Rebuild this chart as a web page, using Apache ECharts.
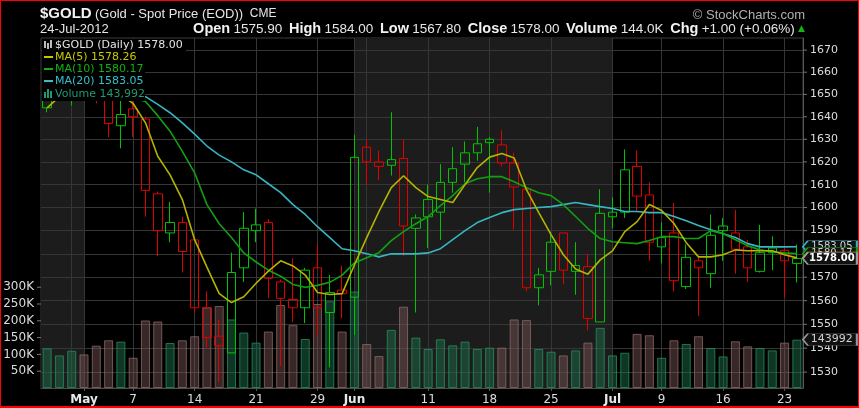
<!DOCTYPE html>
<html>
<head>
<meta charset="utf-8">
<script src="https://cdn.jsdelivr.net/npm/echarts@6/dist/echarts.min.js"></script>
<style>
html,body{margin:0;padding:0;background:#000;}
#wrap{position:relative;width:859px;height:408px;overflow:hidden;background:#000;}
#chart{position:absolute;left:0;top:0;width:859px;height:408px;}
#frame{position:absolute;left:0;top:0;width:859px;height:408px;box-sizing:border-box;border:1px solid #f00;border-bottom-width:2px;pointer-events:none;}
</style>
</head>
<body>
<div id="wrap"><div id="chart"></div><div id="frame"></div></div>
<script>
// ---------- data ----------
const dates = ['Apr 26','Apr 27','Apr 30','May 1','May 2','May 3','May 4','May 7','May 8','May 9','May 10','May 11',
  'May 14','May 15','May 16','May 17','May 18','May 21','May 22','May 23','May 24','May 25','May 29','May 30','May 31',
  'Jun 1','Jun 4','Jun 5','Jun 6','Jun 7','Jun 8','Jun 11','Jun 12','Jun 13','Jun 14','Jun 15','Jun 18','Jun 19','Jun 20',
  'Jun 21','Jun 22','Jun 25','Jun 26','Jun 27','Jun 28','Jun 29','Jul 2','Jul 3','Jul 5','Jul 6','Jul 9','Jul 10','Jul 11',
  'Jul 12','Jul 13','Jul 16','Jul 17','Jul 18','Jul 19','Jul 20','Jul 23','Jul 24'];
const opens  = [1644,1652,1655,1662,1657,1652,1636,1643.5,1639,1606,1589,1593.5,1586,1557,1545,1538,1574,1590,1593.5,1568,
  1560.5,1557,1574,1555,1564.5,1561.5,1626.5,1620,1618.5,1621.5,1591,1603.5,1598,1611,1619,1624,1630,1627.5,1619.5,1608,
  1565.5,1572.5,1589,1572.5,1574.5,1551,1596,1598,1618,1605.5,1583,1589,1566,1577,1571.5,1592,1589,1583,1572.5,1580.5,
  1581.5,1575.9];
const highs  = [1656,1660,1664,1665,1660,1655,1648,1648,1640,1607,1602.5,1596,1586,1564,1552,1580.5,1598,1599.5,1595,1569,
  1578,1574,1584,1571,1575,1632,1630,1625,1642,1630,1597,1610,1619,1626.5,1629,1635.5,1631,1634,1624,1608,
  1574,1589.5,1589,1585,1580,1608,1604.5,1625.5,1625,1611,1593.5,1602,1584,1578.5,1597,1595.5,1599,1586,1592.5,1587.5,
  1582.5,1584];
const lows   = [1642,1649,1645,1652,1646,1631,1626,1631,1596,1579,1585,1572,1555,1540.5,1526,1538,1568,1585,1561,1532.5,
  1551,1550.5,1545.5,1532,1552.5,1545.5,1610,1612,1614,1579,1555,1582.5,1586,1606.5,1611,1620.5,1606.5,1618,1590.5,1564,
  1558,1566.5,1567,1562.5,1547.5,1551,1591,1595.5,1598.5,1577,1576,1564,1565,1553.5,1565.5,1577,1571.5,1568,1572,1573,
  1561.5,1567.8];
const closes = [1652,1655,1660,1658,1654,1637,1641,1640,1607.5,1590,1593.5,1581,1557,1544.5,1541,1572,1591,1592.5,1569.5,1561,
  1557,1573,1557,1563.5,1563,1622,1620,1618,1621,1592,1595.5,1596,1611,1617,1624,1628,1628.5,1619.5,1609,1565.5,
  1571,1585,1573,1575,1552.5,1597.5,1598,1616.5,1605,1585,1587,1568.5,1578.5,1574,1588,1590,1582,1574,1580.5,1582.5,
  1577,1578];
const volumes = [118000,97000,111000,100000,126000,142000,138000,90000,201000,198000,134000,142000,154000,240000,244000,204000,
  165000,135000,168000,247000,187000,146000,250000,258000,168000,287000,131000,95000,173000,242000,150000,116000,145000,
  127000,138000,116000,120000,120000,204000,202000,116000,108000,97000,112000,135000,179000,97000,105000,161000,157000,
  90000,142000,131000,154000,119000,94000,139000,124000,119000,112000,135000,143992];
const ma5  = [1644,1649,1653,1655,1656,1654,1650,1645.9,1637.3,1622.5,1614.3,1603.5,1586.1,1574.3,1563,1559.2,1561.7,1567.4,
  1572.6,1577,1574.8,1570.9,1563.5,1562.6,1563,1575.2,1587,1598.3,1608.7,1613.9,1608.7,1604.8,1603.5,1602.2,1610,1617.5,
  1622.1,1623.7,1621.7,1607.8,1597.8,1588.3,1579.6,1573.5,1571.3,1577.4,1581.3,1589.6,1593.9,1601.3,1598.7,1593.1,1584.8,
  1578.7,1578.7,1579.6,1581.7,1581.3,1581.3,1581.3,1579.6,1578.26];
const ma10 = [1652,1653,1654,1654,1653,1652,1650,1648.5,1646.8,1640.5,1633.6,1624.6,1615.2,1601.3,1593,1587,1580.4,1576.5,
  1573,1570.4,1566.9,1565.7,1566.5,1567.8,1570.9,1576.1,1578.3,1580.5,1585.7,1589.6,1593,1596.1,1600.9,1605.2,1610.4,1612.6,
  1613.5,1613.5,1611.3,1608.7,1606.5,1605.2,1601.3,1596.1,1590.9,1586.6,1585.2,1584.8,1584.4,1585.7,1587.4,1587.4,1586.6,
  1586.6,1590,1588.7,1586.1,1583.5,1581.7,1580.9,1580.4,1580.17];
const ma20 = [1656,1656,1656,1655,1655,1654,1653,1651,1649,1645.5,1641.8,1637.3,1632.3,1627,1623,1620,1616.5,1614.3,1610.4,
  1606.5,1601.3,1597,1591.7,1587,1582.2,1581.3,1580,1578.7,1580,1580,1580,1580.4,1582.2,1586.1,1590,1593.5,1595.7,1597.8,
  1599.1,1599.6,1600,1600.4,1601.3,1602.2,1601.3,1600.4,1599.6,1598.3,1598.3,1597.8,1597.8,1596.1,1594.3,1592.2,1590.4,
  1588.7,1587,1584.4,1583,1583,1583,1583.05];
const priceTicks  = [1530,1540,1550,1560,1570,1580,1590,1600,1610,1620,1630,1640,1650,1660,1670];
const volumeTicks = [50000,100000,150000,200000,250000,300000];
const labelDates  = ['May 1','May 7','May 14','May 21','May 29','Jun 1','Jun 11','Jun 18','Jun 25','Jul 2','Jul 9','Jul 16','Jul 23'];
const labelTexts  = ['May','7','14','21','29','Jun','11','18','25','Jul','9','16','23'];
const monthLabels = ['May','Jun','Jul'];
const gridDates   = ['Apr 30','May 1','May 7','May 14','May 21','May 29','Jun 1','Jun 4','Jun 11','Jun 18','Jun 25','Jul 2','Jul 9','Jul 16','Jul 23'];
const shadedRanges = [[null,'May 1'],['Jun 1','Jul 2']];

// ---------- styles ----------
const GREEN = '#00c400', RED = '#e00000';
const C5 = '#b4b400', C10 = '#12a012', C20 = '#35b6c2';
const FONT = 'DejaVu Sans', HFONT = 'Liberation Sans';
const last = dates.length - 1;

const candleData = dates.map((d, i) => {
  const prev = i > 0 ? closes[i - 1] : opens[i];
  const col = closes[i] >= prev ? GREEN : RED;
  return { value: [opens[i], closes[i], lows[i], highs[i]],
    itemStyle: { color: 'rgba(0,0,0,0)', color0: col, borderColor: col, borderColor0: col, borderWidth: 1 } };
});
const volData = volumes.map((v, i) => {
  const prev = i > 0 ? closes[i - 1] : opens[i];
  const up = closes[i] >= prev;
  return { value: v, itemStyle: up
    ? { color: 'rgba(32,112,78,0.48)', borderColor: 'rgba(40,145,98,0.75)', borderWidth: 1 }
    : { color: 'rgba(122,86,86,0.45)', borderColor: 'rgba(150,110,110,0.72)', borderWidth: 1 } };
});

const tagPath = 'path://M0,6L5,0L54,0L54,12L5,12Z';
function tag(value, coord, border, textColor, bold, z, size) {
  return {
    z: z, silent: true, symbol: tagPath, symbolSize: [54, 12], symbolOffset: [33, 0],
    itemStyle: { color: '#111', borderColor: border, borderWidth: 1 },
    label: { show: true, position: 'inside', offset: [2, 0], formatter: value, color: textColor,
      fontFamily: FONT, fontSize: size || 10, fontWeight: bold ? 'bold' : 'normal' },
    data: [{ coord: coord }]
  };
}

const chart = echarts.init(document.getElementById('chart'));
const fmt2 = v => v.toFixed(2);
const volK = (volumes[last] / 1000).toFixed(1) + 'K';
const chg = closes[last] - closes[last - 1];
const chgPct = chg / closes[last - 1] * 100;

chart.setOption({
  backgroundColor: '#000',
  animation: false,
  grid: { left: 41, right: 56, top: 38, bottom: 20, show: true, borderColor: '#3c3c3c', borderWidth: 1, backgroundColor: 'transparent' },
  xAxis: {
    type: 'category', data: dates, boundaryGap: true,
    axisLine: { show: true, lineStyle: { color: '#4c4c4c' } },
    axisTick: { show: true, alignWithLabel: true, length: 3, lineStyle: { color: '#555' },
      interval: (idx, val) => labelDates.includes(val) },
    axisLabel: { interval: (idx, val) => labelDates.includes(val), margin: 6, color: '#dcdcdc', fontFamily: FONT, fontSize: 12,
      formatter: (val) => { const t = labelTexts[labelDates.indexOf(val)]; return monthLabels.includes(t) ? '{m|' + t + '}' : t; },
      rich: { m: { fontWeight: 'bold', fontSize: 12, fontFamily: FONT, color: '#e8e8e8' } } },
    splitLine: { show: false }
  },
  yAxis: [
    { type: 'log', logBase: 10, min: 1523.4, max: 1675.5, position: 'right',
      axisLine: { show: true, lineStyle: { color: '#5a5a5a' } }, axisTick: { show: false }, axisLabel: { show: false }, splitLine: { show: false } },
    { type: 'value', min: 0, max: 1041667, interval: 50000, position: 'left',
      axisLine: { show: false }, axisTick: { show: false }, splitLine: { show: false },
      axisLabel: { margin: 0, color: '#dcdcdc', fontFamily: FONT, fontSize: 12, showMaxLabel: false,
        formatter: v => volumeTicks.includes(v) ? '{v|' + (v / 1000) + 'K}{t|}' : '',
        rich: { v: { padding: [0, 3, 0, 0] }, t: { width: 4, height: 1, backgroundColor: '#777', verticalAlign: 'middle' } } } }
  ],
  series: [
    { // month shading
      type: 'custom', z: 0, silent: true, xAxisIndex: 0, yAxisIndex: 0,
      data: shadedRanges.map(r => [r[0] == null ? -1 : dates.indexOf(r[0]), dates.indexOf(r[1]), 1600]),
      encode: { x: [0, 1], y: 2 },
      renderItem: (params, api) => {
        const cs = params.coordSys;
        const x0 = api.value(0) < 0 ? cs.x : api.coord([api.value(0), 1600])[0];
        const x1 = api.coord([api.value(1), 1600])[0];
        return { type: 'rect', shape: { x: x0, y: cs.y, width: x1 - x0, height: cs.height }, style: { fill: '#1c1c1c' } };
      }
    },
    { // grid lines + price tick labels
      type: 'line', z: 1, yAxisIndex: 0, data: dates.map(() => null), silent: true, symbol: 'none',
      markLine: {
        z: 1, silent: true, symbol: ['none', 'none'], animation: false,
        lineStyle: { color: '#363636', width: 1, type: 'solid' },
        label: { show: true, position: 'end', distance: 0, color: '#dcdcdc', fontFamily: FONT, fontSize: 11,
          formatter: p => '{t|}{v|' + p.value + '}',
          rich: { t: { width: 4, height: 1, backgroundColor: '#777', verticalAlign: 'middle' }, v: { padding: [0, 0, 0, 3] } } },
        data: priceTicks.map(v => ({ yAxis: v }))
          .concat(gridDates.map(d => ({ xAxis: d, label: { show: false } })))
      }
    },
    { name: 'Volume', type: 'bar', z: 2, yAxisIndex: 1, barWidth: 9, data: volData,
      markPoint: tag(String(volumes[last]), [last, volumes[last]], '#999', '#d0d0d0', false, 13, 11) },
    { name: '$GOLD', type: 'candlestick', z: 3, yAxisIndex: 0, barWidth: 9, data: candleData,
      markPoint: tag(fmt2(closes[last]), [last, closes[last]], '#9a9a9a', '#ffffff', true, 14) },
    { name: 'MA(20)', type: 'line', z: 4, yAxisIndex: 0, data: ma20, symbol: 'none', lineStyle: { color: C20, width: 1.6 },
      markPoint: tag(fmt2(ma20[last]), [last, ma20[last]], C20, '#cfcfcf', false, 10) },
    { name: 'MA(10)', type: 'line', z: 4, yAxisIndex: 0, data: ma10, symbol: 'none', lineStyle: { color: C10, width: 1.6 },
      markPoint: tag(fmt2(ma10[last]), [last, ma10[last]], C10, '#cfcfcf', false, 11) },
    { name: 'MA(5)', type: 'line', z: 4, yAxisIndex: 0, data: ma5, symbol: 'none', lineStyle: { color: C5, width: 1.6 },
      markPoint: tag(fmt2(ma5[last]), [last, ma5[last]], C5, '#cfcfcf', false, 12) }
  ],
  graphic: [
    { type: 'text', x: 40, y: 14, z: 50, silent: true, style: {
        text: '{b|$GOLD} {n|(Gold - Spot Price (EOD))}  {s|CME}', verticalAlign: 'middle',
        rich: { b: { fontFamily: HFONT, fontWeight: 'bold', fontSize: 15, fill: '#f2f2f2' },
                n: { fontFamily: HFONT, fontSize: 13, fill: '#e6e6e6' },
                s: { fontFamily: HFONT, fontSize: 12, fill: '#e6e6e6' } } } },
    { type: 'text', x: 40, y: 29, z: 50, silent: true, style: {
        text: '24-Jul-2012', fontFamily: HFONT, fontSize: 13, fill: '#e6e6e6', verticalAlign: 'middle' } },
    { type: 'text', x: 805, y: 15, z: 50, silent: true, style: {
        text: '© StockCharts.com', fontFamily: HFONT, fontSize: 13, fill: '#b0b0b0', align: 'right', verticalAlign: 'middle' } },
    { type: 'text', x: 805, y: 29, z: 50, silent: true, style: {
        text: '{b|Open} {n|' + fmt2(opens[last]) + '}  {b|High} {n|' + fmt2(highs[last]) + '}  {b|Low} {n|' + fmt2(lows[last]) +
              '}  {b|Close} {n|' + fmt2(closes[last]) + '}  {b|Volume} {n|' + volK + '}  {b|Chg} {n|' +
              (chg >= 0 ? '+' : '') + chg.toFixed(2) + ' (' + (chgPct >= 0 ? '+' : '') + chgPct.toFixed(2) + '%)} {g|▲}',
        align: 'right', verticalAlign: 'middle',
        rich: { b: { fontFamily: HFONT, fontWeight: 'bold', fontSize: 14.5, fill: '#f2f2f2' },
                n: { fontFamily: HFONT, fontSize: 13.5, fill: '#e6e6e6' },
                g: { fontFamily: FONT, fontSize: 9, fill: '#18b018' } } } },
    // legend background
    { type: 'rect', z: 50, silent: true, shape: { x: 42, y: 39, width: 144, height: 12 }, style: { fill: '#000' } },
    { type: 'rect', z: 50, silent: true, shape: { x: 42, y: 39, width: 103, height: 62 }, style: { fill: '#000' } },
    // legend icons
    { type: 'rect', z: 51, silent: true, shape: { x: 44, y: 41, width: 2, height: 7 }, style: { fill: '#bbb' } },
    { type: 'rect', z: 51, silent: true, shape: { x: 47, y: 43, width: 2, height: 6 }, style: { fill: '#bbb' } },
    { type: 'rect', z: 51, silent: true, shape: { x: 50, y: 40, width: 2, height: 8 }, style: { fill: '#bbb' } },
    { type: 'rect', z: 51, silent: true, shape: { x: 44, y: 56, width: 9, height: 2 }, style: { fill: '#c8c800' } },
    { type: 'rect', z: 51, silent: true, shape: { x: 44, y: 68, width: 9, height: 2 }, style: { fill: '#10b010' } },
    { type: 'rect', z: 51, silent: true, shape: { x: 44, y: 80, width: 9, height: 2 }, style: { fill: '#35c0c8' } },
    { type: 'rect', z: 51, silent: true, shape: { x: 44, y: 92, width: 2, height: 6 }, style: { fill: '#1f9a70' } },
    { type: 'rect', z: 51, silent: true, shape: { x: 47, y: 89, width: 2, height: 9 }, style: { fill: '#1f9a70' } },
    { type: 'rect', z: 51, silent: true, shape: { x: 50, y: 91, width: 2, height: 7 }, style: { fill: '#1f9a70' } },
    { type: 'text', x: 55, y: 45, z: 51, silent: true, style: { text: '$GOLD (Daily) ' + fmt2(closes[last]), fontFamily: FONT, fontSize: 11, fill: '#e4e4e4', verticalAlign: 'middle' } },
    { type: 'text', x: 55, y: 57, z: 51, silent: true, style: { text: 'MA(5) ' + fmt2(ma5[last]), fontFamily: FONT, fontSize: 11, fill: '#c8c800', verticalAlign: 'middle' } },
    { type: 'text', x: 55, y: 69, z: 51, silent: true, style: { text: 'MA(10) ' + fmt2(ma10[last]), fontFamily: FONT, fontSize: 11, fill: '#10b010', verticalAlign: 'middle' } },
    { type: 'text', x: 55, y: 81, z: 51, silent: true, style: { text: 'MA(20) ' + fmt2(ma20[last]), fontFamily: FONT, fontSize: 11, fill: '#35c0c8', verticalAlign: 'middle' } },
    { type: 'text', x: 55, y: 94, z: 51, silent: true, style: { text: 'Volume ' + volumes[last].toLocaleString('en-US'), fontFamily: FONT, fontSize: 11, fill: '#1f9a70', verticalAlign: 'middle' } }
  ]
});
</script>
</body>
</html>
